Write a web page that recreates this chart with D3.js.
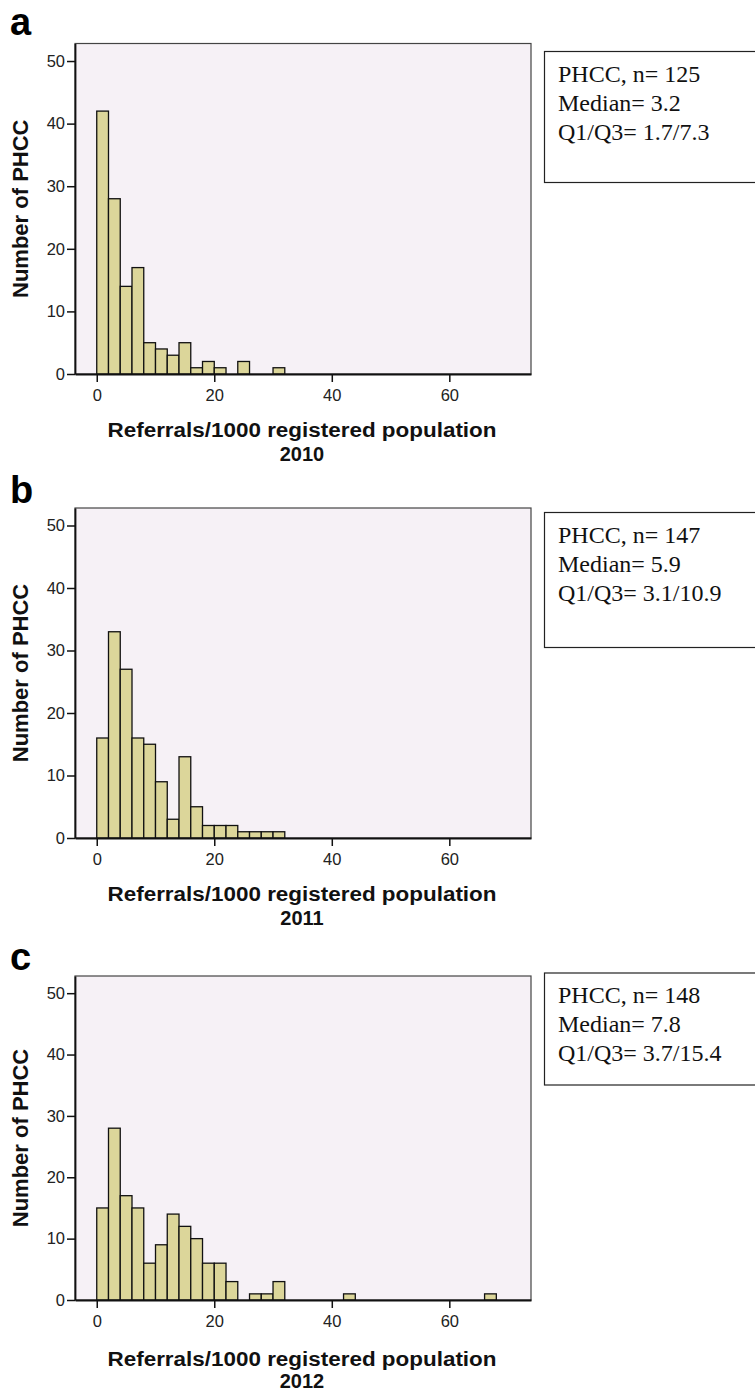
<!DOCTYPE html>
<html>
<head>
<meta charset="utf-8">
<script src="https://d3js.org/d3.v7.min.js"></script>
<style>
body { margin: 0; background: #fff; }
svg text { font-family: "Liberation Sans", Arial, sans-serif; }
</style>
</head>
<body>
<script>
// counts per bin of width 2, starting at 0
var binWidth = 2;
var counts2010 = [42, 28, 14, 17, 5, 4, 3, 5, 1, 2, 1, 0, 2, 0, 0, 1];
var counts2011 = [16, 33, 27, 16, 15, 9, 3, 13, 5, 2, 2, 2, 1, 1, 1, 1];
var counts2012 = [15, 28, 17, 15, 6, 9, 14, 12, 10, 6, 6, 3, 0, 1, 1, 3,
                  0, 0, 0, 0, 0, 1, 0, 0, 0, 0, 0, 0, 0, 0, 0, 0, 0, 1];
var years = ["2010", "2011", "2012"];
var letters = ["a", "b", "c"];
var statLines = [
	["PHCC, n= 125", "Median= 3.2", "Q1/Q3= 1.7/7.3"],
	["PHCC, n= 147", "Median= 5.9", "Q1/Q3= 3.1/10.9"],
	["PHCC, n= 148", "Median= 7.8", "Q1/Q3= 3.7/15.4"]
];
var xTicks = [0, 20, 40, 60];
var yTicks = [0, 10, 20, 30, 40, 50];

var width = 755, height = 1392;
var svg = d3.select("body").append("svg")
	.attr("width", width)
	.attr("height", height);

var x = d3.scaleLinear().domain([-3.7, 73.9]).range([75, 531]);

// layout per panel
var panels = [
	{counts: counts2010, top: 43.5, bottom: 374, letterY: 35, titleY: 437, yearY: 461, boxTop: 51.5, boxH: 131},
	{counts: counts2011, top: 508, bottom: 838, letterY: 503, titleY: 901, yearY: 925, boxTop: 512.5, boxH: 135},
	{counts: counts2012, top: 976, bottom: 1300, letterY: 970, titleY: 1366, yearY: 1388, boxTop: 973, boxH: 112}
];

panels.forEach(function(p, k) {
	var y = d3.scaleLinear().domain([0, 52.8]).range([p.bottom, p.top]);
	var g = svg.append("g");

	// plot area
	g.append("rect")
		.attr("x", x.range()[0])
		.attr("y", p.top)
		.attr("width", x.range()[1] - x.range()[0])
		.attr("height", p.bottom - p.top)
		.attr("fill", "#f6f1f6")
		.attr("stroke", "#444")
		.attr("stroke-width", 1.2);

	var bins = p.counts.map(function(c, i) { return {x0: i * binWidth, x1: (i + 1) * binWidth, n: c}; })
		.filter(function(d) { return d.n > 0; });

	g.selectAll("rect.bar")
		.data(bins)
		.enter()
		.append("rect")
			.attr("class", "bar")
			.attr("x", function(d) { return x(d.x0); })
			.attr("y", function(d) { return y(d.n); })
			.attr("width", function(d) { return x(d.x1) - x(d.x0); })
			.attr("height", function(d) { return y(0) - y(d.n); })
			.attr("fill", "#dcd69a")
			.attr("stroke", "#111")
			.attr("stroke-width", 1.3);

	var ya = g.append("g")
		.attr("transform", "translate(" + x.range()[0] + ",0)")
		.call(d3.axisLeft(y).tickValues(yTicks).tickSize(8).tickPadding(2).tickSizeOuter(0));
	var xa = g.append("g")
		.attr("transform", "translate(0," + p.bottom + ")")
		.call(d3.axisBottom(x).tickValues(xTicks).tickSize(8).tickPadding(7).tickSizeOuter(0));
	[ya, xa].forEach(function(a) {
		a.select(".domain").attr("stroke", "#111").attr("stroke-width", 1.8);
		a.selectAll(".tick line").attr("stroke", "#111").attr("stroke-width", 1.5);
		a.selectAll(".tick text")
			.attr("font-family", "Liberation Sans, Arial, sans-serif")
			.attr("font-size", 16.5)
			.attr("fill", "#222");
	});

	// panel letter
	g.append("text")
		.attr("x", 10)
		.attr("y", p.letterY)
		.attr("font-size", 38)
		.attr("font-weight", "bold")
		.text(letters[k]);

	// axis titles
	g.append("text")
		.attr("transform", "translate(28," + ((p.top + p.bottom) / 2) + ") rotate(-90)")
		.attr("text-anchor", "middle")
		.attr("font-size", 22)
		.attr("font-weight", "bold")
		.attr("fill", "#111")
		.text("Number of PHCC");

	g.append("text")
		.attr("x", 302)
		.attr("y", p.titleY)
		.attr("text-anchor", "middle")
		.attr("font-size", 20)
		.attr("font-weight", "bold")
		.attr("fill", "#111")
		.attr("textLength", 389)
		.attr("lengthAdjust", "spacingAndGlyphs")
		.text("Referrals/1000 registered population");

	g.append("text")
		.attr("x", 302)
		.attr("y", p.yearY)
		.attr("text-anchor", "middle")
		.attr("font-size", 20)
		.attr("font-weight", "bold")
		.attr("fill", "#111")
		.text(years[k]);

	// stats box
	g.append("rect")
		.attr("x", 544.5)
		.attr("y", p.boxTop)
		.attr("width", 212)
		.attr("height", p.boxH)
		.attr("fill", "#fff")
		.attr("stroke", "#222")
		.attr("stroke-width", 1.2);

	g.selectAll("text.stat")
		.data(statLines[k])
		.enter()
		.append("text")
			.attr("class", "stat")
			.attr("x", 558)
			.attr("y", function(d, i) { return p.boxTop + 30 + i * 29; })
			.style("font-family", "'Liberation Serif', 'Times New Roman', serif")
			.attr("font-size", 24)
			.attr("fill", "#111")
			.text(function(d) { return d; });
});
</script>
</body>
</html>
